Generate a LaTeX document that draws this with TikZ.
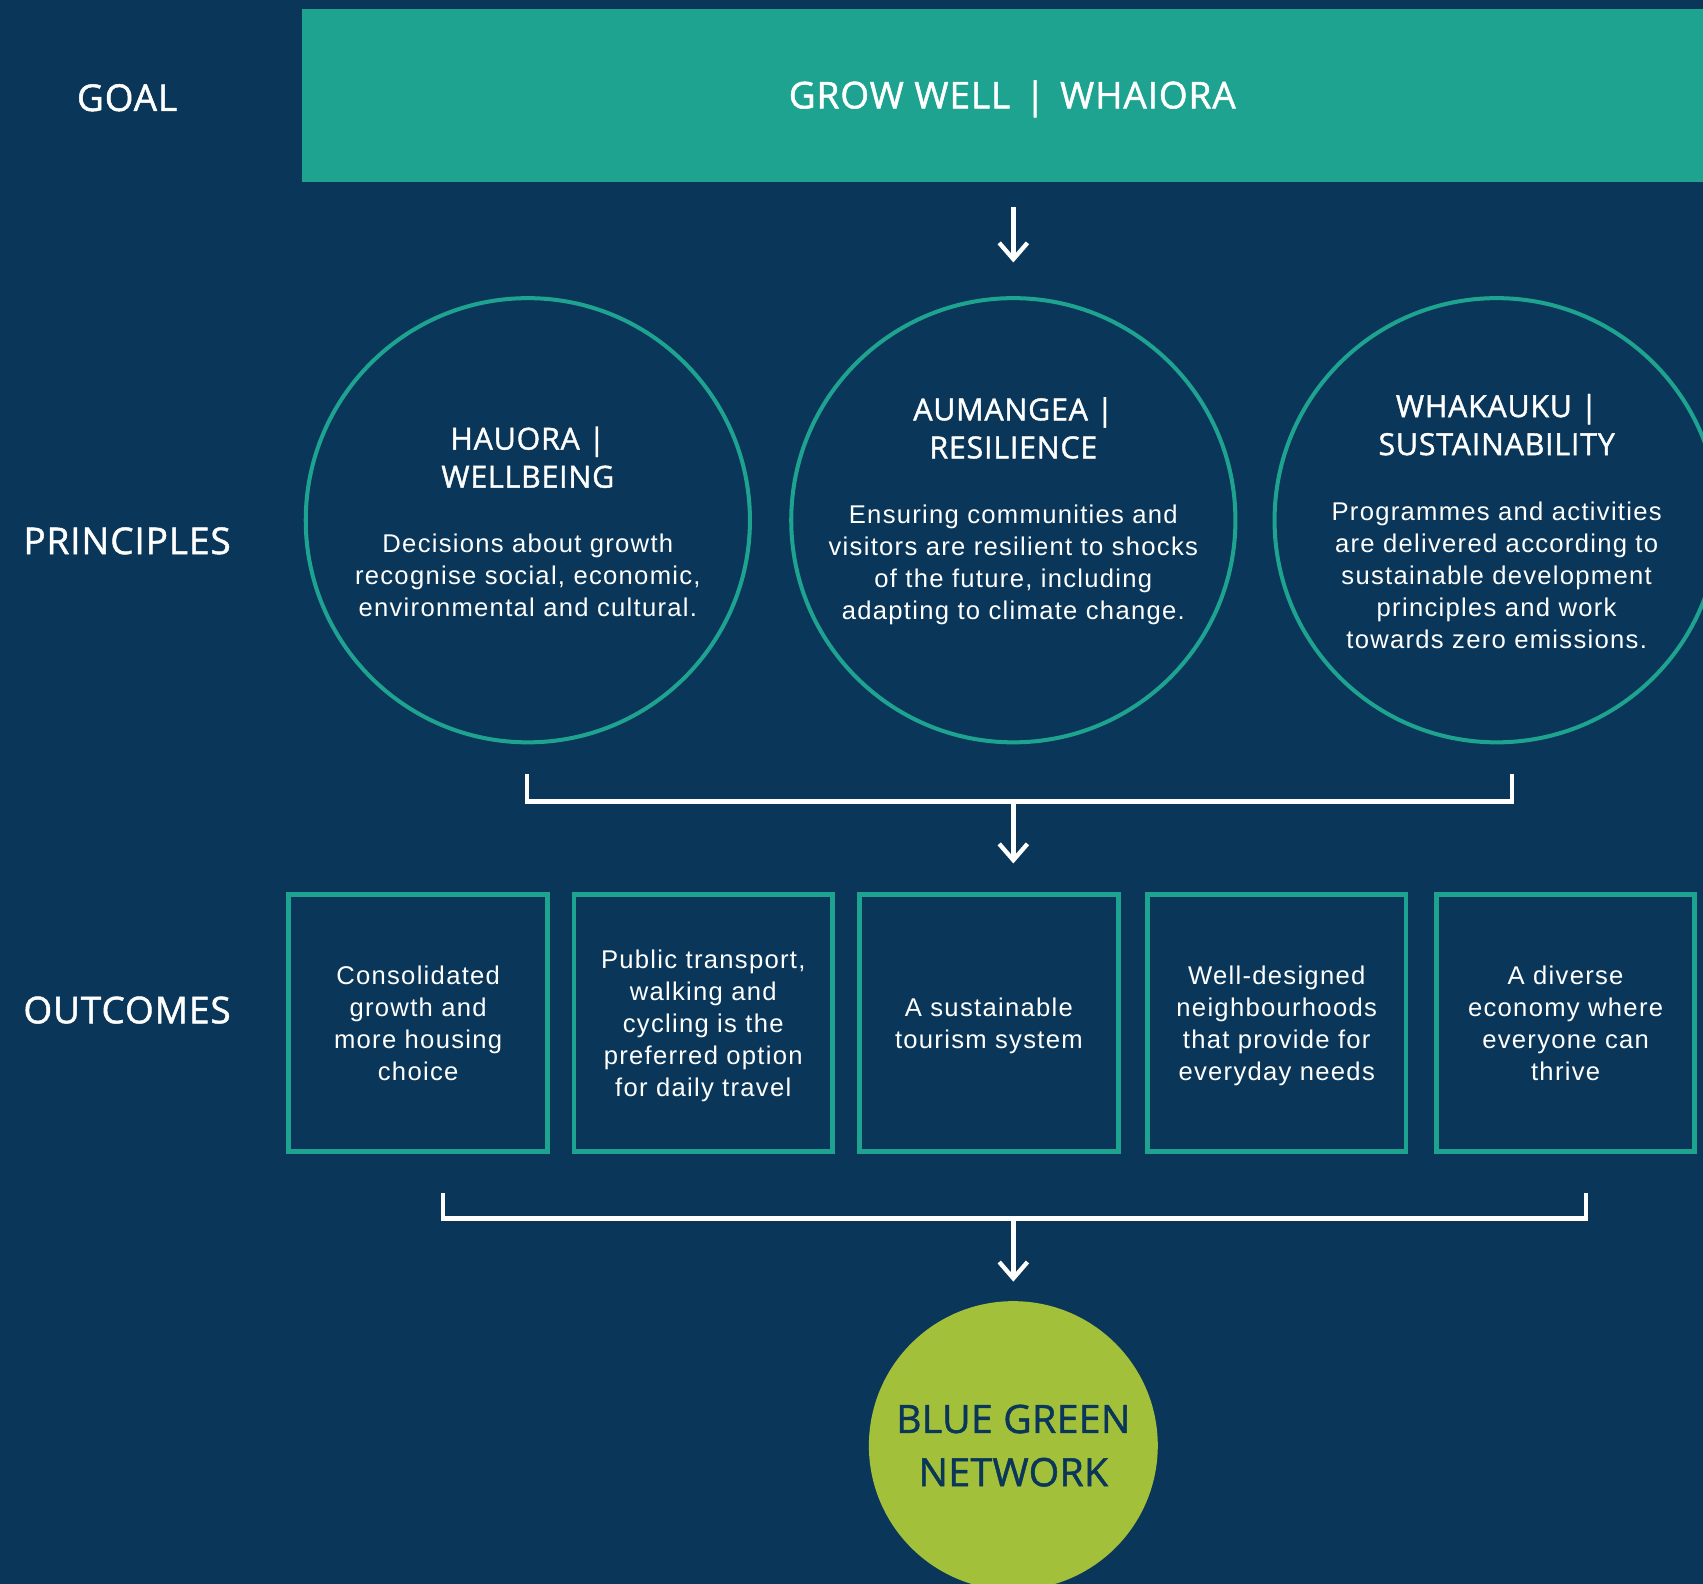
\documentclass[tikz,border=0pt]{standalone}
\usepackage{fontspec}
\setmainfont{Liberation Sans}[LetterSpace=5]
\newfontfamily\headfont{Open Sans}[LetterSpace=2.5,FakeBold=1.3]
\usetikzlibrary{arrows.meta}
\definecolor{bgnavy}{RGB}{10,55,89}
\definecolor{goalteal}{RGB}{30,163,145}
\definecolor{bgreen}{RGB}{163,192,58}

\begin{document}
\begin{tikzpicture}[x=1pt,y=-1pt,
  ring/.style={circle, draw=goalteal, line width=3.7pt, minimum size=409pt, inner sep=0pt},
  outcome/.style={draw=goalteal, line width=4.5pt, minimum width=238pt, minimum height=237pt, inner sep=0pt, align=center, text=white, font=\fontsize{23.6}{29.4}\selectfont},
  rowlabel/.style={text=white, font=\headfont\fontsize{34}{40}\selectfont},
  ptitle/.style={text=white, align=center, font=\headfont\fontsize{28}{35}\selectfont},
  pbody/.style={text=white, align=center, font=\fontsize{23.6}{29.4}\selectfont},
  arr/.style={-{Straight Barb[length=15pt,width=26pt]}, white, line width=4pt},
  bracket/.style={white, line width=4pt}]
 \pgfmathsetmacro{\xmid}{933}
 \pgfmathsetmacro{\yprin}{479} % centre line of the principle circles
 \pgfmathsetmacro{\yout}{942}  % centre line of the outcome boxes

 \useasboundingbox (0,0) rectangle (1568,1458);
 \clip (0,0) rectangle (1568,1458);
 \fill[bgnavy] (0,0) rectangle (1568,1458);

% goal bar
 \node[fill=goalteal, minimum width=1290pt, minimum height=159pt, inner sep=0pt, anchor=north west] (goal bar) at (278,8) {};
 \node[rowlabel] (goal title) at (932,91) {GROW WELL\hspace{0.4em}|\hspace{0.4em}WHAIORA};

% labels on the left
 \node[rowlabel] (goal label) at (117,90) {GOAL};
 \node[rowlabel] (principles label) at (117,498) {PRINCIPLES};
 \node[rowlabel] (outcomes label) at (117,930) {OUTCOMES};

% the three principles
 \node[ring] (hauora) at (486,\yprin) {};
 \node[ring] (aumangea) at (\xmid,\yprin) {};
 \node[ring] (whakauku) at (1378,\yprin) {};
 \node[ptitle] (hauora title) at (486,421) {HAUORA |\\WELLBEING};
 \node[pbody] (hauora text) at (486,530) {Decisions about growth\\recognise social, economic,\\environmental and cultural.};
 \node[ptitle] (aumangea title) at (\xmid,394) {AUMANGEA |\\RESILIENCE};
 \node[pbody] (aumangea text) at (\xmid,520) {Ensuring communities and\\visitors are resilient to shocks\\of the future, including\\adapting to climate change.};
 \node[ptitle] (whakauku title) at (1378,391) {WHAKAUKU |\\SUSTAINABILITY};
 \node[pbody] (whakauku text) at (1378,530) {Programmes and activities\\are delivered according to\\sustainable development\\principles and work\\towards zero emissions.};

% the five outcomes
 \foreach \cx/\name/\txt in {385/housing/{Consolidated\\growth and\\more housing\\choice},
   647.5/transport/{Public transport,\\walking and\\cycling is the\\preferred option\\for daily travel},
   910.5/tourism/{A sustainable\\tourism system},
   1175.5/neighbourhoods/{Well-designed\\neighbourhoods\\that provide for\\everyday needs},
   1441.5/economy/{A diverse\\economy where\\everyone can\\thrive}}
   \node[outcome, text depth=0pt] (\name) at (\cx,\yout) {\txt};

% blue green network
 \node[circle, fill=bgreen, minimum size=266pt, inner sep=0pt, align=center, text=bgnavy, font=\headfont\fontsize{36}{49}\selectfont\addfontfeature{LetterSpace=1}] (network) at (\xmid,1331) {BLUE GREEN\\NETWORK};

% connectors
 \draw[arr, shorten <=23pt, shorten >=31pt] (goal bar.south -| aumangea) -- (aumangea.north);
 \coordinate (p left) at (485,713);
 \coordinate (p right) at (1392,713);
 \coordinate (p join) at (\xmid,738);
 \coordinate (p tip) at (\xmid,795);
 \draw[bracket] (p left) |- (p join) -| (p right);
 \draw[arr] (p join) -- (p tip);
 \coordinate (o left) at (408,1098);
 \coordinate (o right) at (1460,1098);
 \coordinate (o join) at (\xmid,1122);
 \coordinate (o tip) at (\xmid,1180);
 \draw[bracket] (o left) |- (o join) -| (o right);
 \draw[arr] (o join) -- (o tip);
\end{tikzpicture}
\end{document}
